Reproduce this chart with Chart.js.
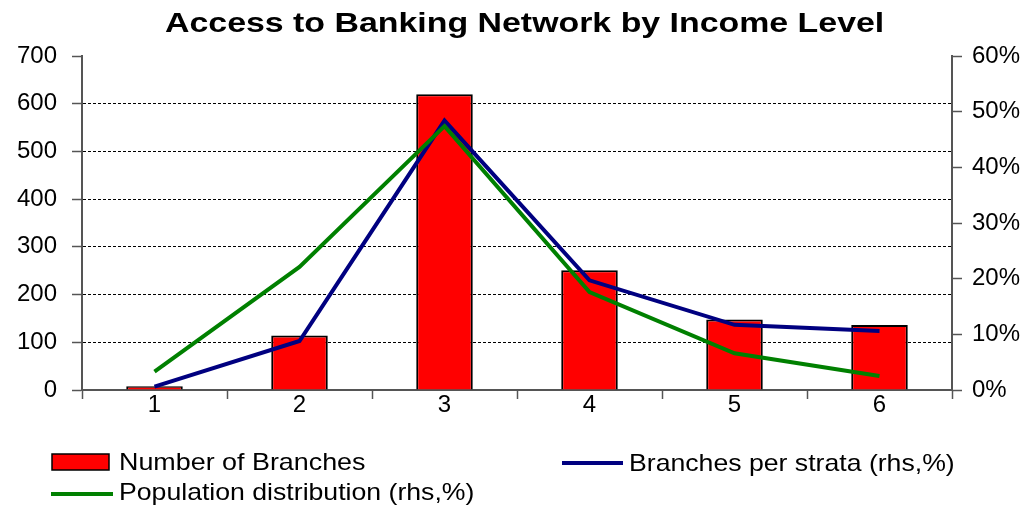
<!DOCTYPE html>
<html>
<head>
<meta charset="utf-8">
<script src="https://cdn.jsdelivr.net/npm/chart.js@4"></script>
<style>
  html, body { margin: 0; padding: 0; background: #fff; }
  #wrap { width: 1028px; height: 505px; position: relative; }
</style>
</head>
<body>
<div id="wrap"><canvas id="chart"></canvas></div>
<script>
// values
const strata = ['1', '2', '3', '4', '5', '6'];
const numberOfBranches = [8, 114, 620, 251, 148, 136];
const branchesPerStrata = [0.6, 8.8, 48.4, 19.7, 11.7, 10.6];   // % (rhs)
const populationDist = [3.3, 22.1, 47.4, 17.6, 6.6, 2.5];       // % (rhs)
const leftTicks = [0, 700, 100];
const rightTicks = [0, 60, 10];

Chart.defaults.font.family = '"Liberation Sans", Arial, sans-serif';
Chart.defaults.color = '#000';

const axisGrey = '#555';

// draw text stretched horizontally (the original's text is a bit wide)
const wideText = (ctx, text, x, y, sx) => {
    ctx.save();
    ctx.translate(x, y);
    ctx.scale(sx, 1);
    ctx.fillText(text, 0, 0);
    ctx.restore();
};

// title + legend are painted by hand so the layout matches the original
const decorations = {
    id: 'decorations',
    afterDraw(chart) {
        const ctx = chart.ctx;
        ctx.save();
        ctx.fillStyle = '#000';
        ctx.textBaseline = 'alphabetic';
        ctx.textAlign = 'left';

        ctx.font = 'bold 28px "Liberation Sans", Arial, sans-serif';
        wideText(ctx, 'Access to Banking Network by Income Level', 165, 32, 1.21);

        ctx.font = '24px "Liberation Sans", Arial, sans-serif';

        // Number of Branches
        ctx.fillStyle = '#FF0000';
        ctx.fillRect(52, 454, 57, 16);
        ctx.strokeStyle = '#000';
        ctx.lineWidth = 1.5;
        ctx.strokeRect(52, 454, 57, 16);
        ctx.fillStyle = '#000';
        wideText(ctx, 'Number of Branches', 119, 470, 1.12);

        // Branches per strata
        ctx.strokeStyle = '#000080';
        ctx.lineWidth = 4;
        ctx.beginPath();
        ctx.moveTo(562, 463);
        ctx.lineTo(623, 463);
        ctx.stroke();
        wideText(ctx, 'Branches per strata (rhs,%)', 629, 471, 1.11);

        // Population distribution
        ctx.strokeStyle = '#008000';
        ctx.beginPath();
        ctx.moveTo(51, 494);
        ctx.lineTo(113, 494);
        ctx.stroke();
        wideText(ctx, 'Population distribution (rhs,%)', 119, 500, 1.11);

        ctx.restore();
    }
};

new Chart(document.getElementById('chart'), {
    type: 'bar',
    data: {
        labels: strata,
        datasets: [
            {
                type: 'line',
                label: 'Population distribution (rhs,%)',
                data: populationDist,
                yAxisID: 'y1',
                borderColor: '#008000',
                borderWidth: 4,
                pointRadius: 0,
                tension: 0,
                order: 1
            },
            {
                type: 'line',
                label: 'Branches per strata (rhs,%)',
                data: branchesPerStrata,
                yAxisID: 'y1',
                borderColor: '#000080',
                borderWidth: 4,
                pointRadius: 0,
                tension: 0,
                order: 2
            },
            {
                label: 'Number of Branches',
                data: numberOfBranches,
                yAxisID: 'y',
                backgroundColor: '#FF0000',
                borderColor: '#000',
                borderWidth: 2,
                categoryPercentage: 1,
                barPercentage: 0.39,
                order: 3
            }
        ]
    },
    options: {
        responsive: true,
        maintainAspectRatio: false,
        animation: false,
        layout: { padding: { top: 56, left: 0, right: 0, bottom: 0 } },
        plugins: {
            legend: { display: false },
            title: { display: false },
            tooltip: { enabled: false }
        },
        scales: {
            x: {
                afterFit: scale => { scale.height = 115; },
                grid: {
                    offset: true,
                    drawOnChartArea: false,
                    tickLength: 9,
                    tickColor: axisGrey,
                    tickWidth: 1.5
                },
                border: { color: axisGrey, width: 2 },
                ticks: { font: { size: 24 }, padding: -8 }
            },
            y: {
                position: 'left',
                min: leftTicks[0],
                max: leftTicks[1],
                afterFit: scale => { scale.width = 82; },
                grid: {
                    color: c => (c.tick.value > 0 && c.tick.value < 700) ? '#000' : 'rgba(0,0,0,0)',
                    lineWidth: 1,
                    tickColor: axisGrey,
                    tickWidth: 1.5,
                    tickLength: 10,
                    tickBorderDash: []
                },
                border: { color: axisGrey, width: 2, dash: [3, 2] },
                ticks: { stepSize: leftTicks[2], font: { size: 24 }, padding: 15 }
            },
            y1: {
                position: 'right',
                min: rightTicks[0],
                max: rightTicks[1],
                afterFit: scale => { scale.width = 76; },
                grid: {
                    drawOnChartArea: false,
                    tickColor: axisGrey,
                    tickWidth: 1.5,
                    tickLength: 10
                },
                border: { color: axisGrey, width: 2 },
                ticks: {
                    stepSize: rightTicks[2],
                    font: { size: 24 },
                    padding: 10,
                    callback: v => v + '%'
                }
            }
        }
    },
    plugins: [decorations]
});
</script>
</body>
</html>
